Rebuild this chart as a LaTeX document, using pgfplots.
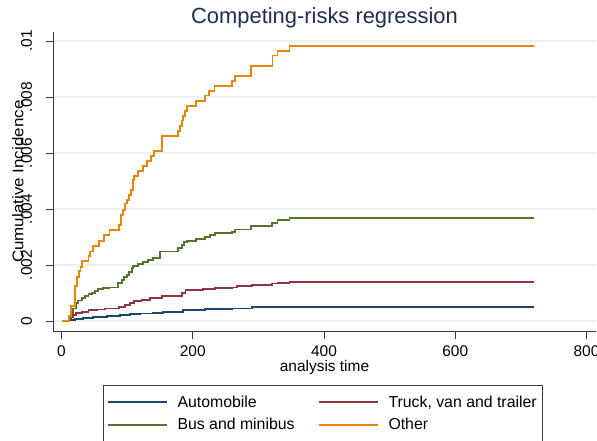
\documentclass[border=0pt]{standalone}
\usepackage{pgfplots}
\pgfplotsset{compat=1.18}
\usepackage{fontspec}
\setmainfont{Liberation Sans}

\definecolor{cAuto}{HTML}{1A476F}
\definecolor{cTruck}{HTML}{90353B}
\definecolor{cBus}{HTML}{55752F}
\definecolor{cOther}{HTML}{E8850A}
\definecolor{cGrid}{HTML}{EAF2F3}
\definecolor{cTitle}{HTML}{1E2D50}
\definecolor{cAxis}{HTML}{3A3A3A}

% cumulative incidence by vehicle type (time, CIF)
\pgfplotstableread{
t y
1 0
12 0.00004
14.5 0.00005
20.6 0.00008
33 0.00011
48.5 0.00015
69 0.00017
89 0.00021
104 0.00024
119.7 0.00027
140 0.00030
155 0.00033
185.7 0.00039
218.8 0.00042
259.4 0.00045
290 0.00049
329 0.00050
720 0.00050
}\auto

\pgfplotstableread{
t y
1 0
12 0.00010
14.5 0.00014
18 0.00021
22 0.00030
30.7 0.00032
41 0.00039
53.6 0.00041
66.3 0.00045
88 0.00051
96.8 0.00057
104.4 0.00063
110.5 0.00071
122 0.00076
135 0.00081
152.7 0.00089
183 0.00100
189 0.00111
216 0.00113
234 0.00117
259.4 0.00120
267 0.00125
290 0.00129
320.4 0.00134
329 0.00136
347.3 0.00138
720 0.00138
}\truck

\pgfplotstableread{
t y
1 0
12 0.00015
14.5 0.00030
18 0.00045
22 0.00063
25.7 0.00073
30.7 0.00083
35.8 0.00089
41 0.00096
46 0.00101
51 0.00108
56 0.00113
63.8 0.00117
73 0.00120
86.6 0.00135
91.7 0.00146
95.3 0.00156
99.3 0.00164
103.4 0.00176
107 0.00188
109.5 0.00196
117 0.00204
124.7 0.00212
132.3 0.00218
140 0.00224
150 0.00248
178 0.00260
183 0.00271
186.7 0.00283
191.8 0.00287
205 0.00293
218.8 0.00299
226 0.00307
234 0.00313
259.4 0.00319
264.5 0.00327
288.4 0.00339
320.4 0.00351
329 0.00361
347.3 0.00367
720 0.00367
}\bus

\pgfplotstableread{
t y
1 0
11.4 0.00019
14.5 0.00054
21 0.00125
23 0.00158
27 0.00180
29 0.00194
31 0.00215
41 0.00232
43.5 0.00248
47.5 0.00268
57.7 0.00287
65 0.00306
73 0.00324
88 0.00343
90.7 0.00379
94 0.00396
96.8 0.00420
100 0.00432
103 0.00450
105.5 0.00468
108.5 0.00504
110.5 0.00519
117 0.00537
123.7 0.00554
130.8 0.00571
136.4 0.00589
141 0.00608
152.7 0.00660
178 0.00679
180.6 0.00695
183.7 0.00716
185.7 0.00732
188 0.00750
190.8 0.00768
205 0.00787
218.8 0.00805
225.3 0.00821
233 0.00839
259.4 0.00858
264.5 0.00876
288.4 0.00910
321.4 0.00948
329 0.00964
347.3 0.00983
720 0.00983
}\other

\begin{document}
\begin{tikzpicture}
\path[use as bounding box] (-53bp,-109.3bp) rectangle (544bp,331.7bp);
\begin{axis}[
  scale only axis, width=543bp, height=300bp,
  xmin=-13, xmax=814.5, ymin=-0.000382, ymax=0.010332,
  axis x line*=bottom, axis y line*=left,
  axis line style={color=cAxis, line width=0.8bp},
  xtick={0,200,400,600,800}, xticklabels={0,200,400,600,800},
  ytick={0,0.002,0.004,0.006,0.008,0.01},
  yticklabels={0,.002,.004,.006,.008,.01},
  scaled y ticks=false,
  tick align=outside, major tick length=7bp,
  tick style={color=cAxis, line width=0.8bp},
  ymajorgrids, grid style={color=cGrid, line width=1.5bp},
  ticklabel style={font=\fontsize{15.5}{18}\selectfont},
  xticklabel style={anchor=base, yshift=-18bp},
  yticklabel style={rotate=90, anchor=base, yshift=14bp},
  xlabel={analysis time}, ylabel={\scalebox{1.1}[1]{Cumulative Incidence}},
  label style={font=\fontsize{15.5}{18}\selectfont},
  xlabel style={at={(axis description cs:0.5,0)}, anchor=base, yshift=-40bp},
  ylabel style={at={(axis description cs:0,0.5)}, anchor=base, yshift=29.5bp},
  title={Competing-risks regression},
  title style={font=\fontsize{22}{26}\selectfont, color=cTitle,
    at={(axis description cs:0.5,1)}, anchor=base, yshift=2.4bp},
  legend columns=2,
  legend cell align=left,
  legend style={at={(axis description cs:0.497,0)}, anchor=north, yshift=-52.8bp,
    draw=cAxis, line width=0.8bp, font=\fontsize{15.9}{18}\selectfont,
    column sep=7.5bp, inner xsep=4bp, inner ysep=8.7bp, row sep=5.9bp},
  legend image code/.code={\draw[#1, line width=2bp] (0bp,0bp) -- (59bp,0bp);},
]
\addplot[const plot, color=cAuto, line width=1.8bp] table[x=t, y=y] {\auto};
\addlegendentry{\makebox[131bp][l]{Automobile}}
\addplot[const plot, color=cTruck, line width=1.8bp] table[x=t, y=y] {\truck};
\addlegendentry{Truck, van and trailer}
\addplot[const plot, color=cBus, line width=1.8bp] table[x=t, y=y] {\bus};
\addlegendentry{\makebox[131bp][l]{Bus and minibus}}
\addplot[const plot, color=cOther, line width=1.8bp] table[x=t, y=y] {\other};
\addlegendentry{Other}
\end{axis}
\end{tikzpicture}
\end{document}
